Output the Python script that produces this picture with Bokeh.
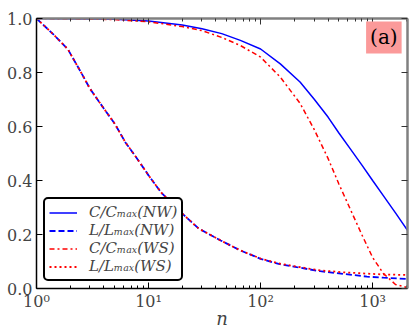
from bokeh.plotting import figure
from bokeh.models import FixedTicker, LogAxis, LinearAxis, Label
from bokeh.embed import file_html
from bokeh.resources import INLINE

# ---- data ----
n_c = [1, 2, 5, 10, 20, 30, 45, 66, 100, 150, 225, 300, 400, 500, 630, 800, 1000, 1250, 1600, 2048]
c_nw = [1.0, 0.9995, 0.997, 0.991, 0.976, 0.962, 0.944, 0.919, 0.887, 0.832, 0.765, 0.702,
        0.635, 0.576, 0.518, 0.458, 0.400, 0.343, 0.280, 0.215]
c_ws = [1.0, 0.999, 0.996, 0.988, 0.970, 0.955, 0.930, 0.900, 0.857, 0.783, 0.686, 0.590,
        0.482, 0.387, 0.295, 0.200, 0.115, 0.055, 0.015, 0.004]

n_l = [1, 1.4, 1.9, 2.5, 3, 4, 5, 6.2, 8, 10, 13, 18, 28, 44, 66, 100, 145, 210, 340, 550, 890, 1250, 2048]
l_nw = [1.0, 0.943, 0.887, 0.800, 0.740, 0.666, 0.610, 0.542, 0.478, 0.419, 0.355, 0.295, 0.222,
        0.178, 0.141, 0.110, 0.091, 0.079, 0.064, 0.054, 0.044, 0.040, 0.035]
l_ws = [1.0, 0.943, 0.887, 0.800, 0.740, 0.666, 0.610, 0.542, 0.478, 0.419, 0.355, 0.295, 0.222,
        0.178, 0.141, 0.111, 0.093, 0.081, 0.067, 0.060, 0.055, 0.052, 0.050]

labels = ["C/Cₘₐₓ(NW)", "L/Lₘₐₓ(NW)", "C/Cₘₐₓ(WS)", "L/Lₘₐₓ(WS)"]

x_major = [1, 10, 100, 1000]
x_tick_labels = ["10⁰", "10¹", "10²", "10³"]
x_minor = [2, 3, 4, 5, 6, 7, 8, 9, 20, 30, 40, 50, 60, 70, 80, 90,
           200, 300, 400, 500, 600, 700, 800, 900, 2000]
y_major = [0.0, 0.2, 0.4, 0.6, 0.8, 1.0]
y_tick_labels = ["0.0", "0.2", "0.4", "0.6", "0.8", "1.0"]

FONT = "DejaVu Serif"

p = figure(frame_width=371, frame_height=270, x_axis_type="log",
           x_range=(1, 2048), y_range=(0, 1),
           output_backend="svg", toolbar_location=None,
           min_border_left=36, min_border_right=2, min_border_top=18, min_border_bottom=30)
p.outline_line_color = None
p.xgrid.visible = False
p.ygrid.visible = False
p.background_fill_color = "white"
p.border_fill_color = "white"

xt = FixedTicker(ticks=x_major, minor_ticks=x_minor)
yt = FixedTicker(ticks=y_major, minor_ticks=[])

bx = p.below[0]
bx.ticker = xt
bx.major_label_overrides = {k: v for k, v in zip(x_major, x_tick_labels)}
bx.axis_line_color = "black"
bx.axis_line_width = 1.5
bx.major_tick_in = 6
bx.major_tick_out = 0
bx.minor_tick_in = 3
bx.minor_tick_out = 0
bx.major_tick_line_color = "black"
bx.minor_tick_line_color = "black"
bx.major_label_text_font = FONT
bx.major_label_text_font_size = "16px"
bx.major_label_standoff = 3
bx.axis_label = "n"
bx.axis_label_text_font = FONT
bx.axis_label_text_font_style = "italic"
bx.axis_label_text_font_size = "18px"
bx.axis_label_standoff = -6

ly = p.left[0]
ly.ticker = yt
ly.major_label_overrides = {k: v for k, v in zip(y_major, y_tick_labels)}
ly.axis_line_color = "black"
ly.axis_line_width = 1.5
ly.major_tick_in = 6
ly.major_tick_out = 0
ly.minor_tick_in = 0
ly.minor_tick_out = 0
ly.major_tick_line_color = "black"
ly.major_label_text_font = FONT
ly.major_label_text_font_size = "16px"
ly.major_label_standoff = 4

top = LogAxis(ticker=xt, axis_line_color="#808080", axis_line_width=2.5,
              major_tick_in=6, major_tick_out=0, minor_tick_in=3, minor_tick_out=0,
              major_tick_line_color="#333333", minor_tick_line_color="#333333",
              major_label_text_font_size="1px", major_label_text_color=None,
              major_label_standoff=0)
p.add_layout(top, "above")
right = LinearAxis(ticker=yt, axis_line_color="#808080", axis_line_width=2.5,
                   major_tick_in=6, major_tick_out=0, minor_tick_in=0, minor_tick_out=0,
                   major_tick_line_color="#333333",
                   major_label_text_font_size="1px", major_label_text_color=None,
                   major_label_standoff=0)
p.add_layout(right, "right")

p.line(n_c, c_nw, color="#0000ff", line_width=1.5, legend_label=labels[0])
p.line(n_l, l_nw, color="#0000ff", line_width=1.8, line_dash="6 3", legend_label=labels[1])
p.line(n_c, c_ws, color="#ff0000", line_width=1.5, line_dash="5 3 2 3", legend_label=labels[2])
p.line(n_l, l_ws, color="#ff0000", line_width=1.8, line_dash="2 3", legend_label=labels[3])

lg = p.legend[0]
lg.location = (7, 7)
lg.border_line_color = "black"
lg.border_line_width = 2
lg.border_line_alpha = 1
lg.background_fill_color = "white"
lg.background_fill_alpha = 1
lg.label_text_font = FONT
lg.label_text_font_style = "italic"
lg.label_text_font_size = "15px"
lg.padding = 4
lg.spacing = 0
lg.margin = 0
lg.glyph_width = 28
lg.glyph_height = 17
lg.label_height = 17
lg.label_standoff = 12
try:
    lg.border_radius = 5
except Exception:
    pass

tag = Label(x=1260, y=0.93, text="(a)", text_font=FONT, text_font_size="20px",
            text_align="center", text_baseline="middle", text_color="black",
            background_fill_color="#fb9a9a", background_fill_alpha=1)
try:
    tag.padding = 4
except Exception:
    pass
p.add_layout(tag)

open("out.html", "w").write(file_html(p, INLINE))
